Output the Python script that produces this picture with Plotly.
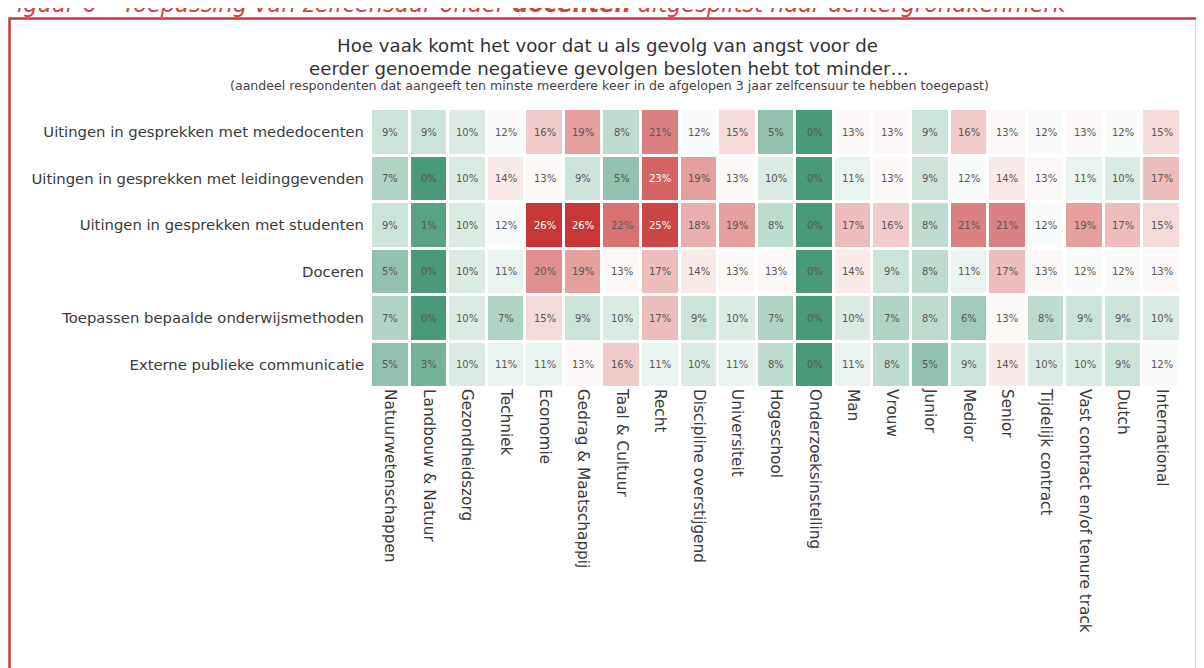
import plotly.graph_objects as go

# ---------------- data ----------------
categories = [
    "Natuurwetenschappen", "Landbouw & Natuur", "Gezondheidszorg", "Techniek",
    "Economie", "Gedrag & Maatschappij", "Taal & Cultuur", "Recht",
    "Discipline overstijgend", "Universiteit", "Hogeschool", "Onderzoeksinstelling",
    "Man", "Vrouw", "Junior", "Medior", "Senior", "Tijdelijk contract",
    "Vast contract en/of tenure track", "Dutch", "International",
]

row_labels = [
    "Uitingen in gesprekken met mededocenten",
    "Uitingen in gesprekken met leidinggevenden",
    "Uitingen in gesprekken met studenten",
    "Doceren",
    "Toepassen bepaalde onderwijsmethoden",
    "Externe publieke communicatie",
]

mededocenten    = [9, 9, 10, 12, 16, 19, 8, 21, 12, 15, 5, 0, 13, 13, 9, 16, 13, 12, 13, 12, 15]
leidinggevenden = [7, 0, 10, 14, 13, 9, 5, 23, 19, 13, 10, 0, 11, 13, 9, 12, 14, 13, 11, 10, 17]
studenten       = [9, 1, 10, 12, 26, 26, 22, 25, 18, 19, 8, 0, 17, 16, 8, 21, 21, 12, 19, 17, 15]
doceren         = [5, 0, 10, 11, 20, 19, 13, 17, 14, 13, 13, 0, 14, 9, 8, 11, 17, 13, 12, 12, 13]
toepassen       = [7, 0, 10, 7, 15, 9, 10, 17, 9, 10, 7, 0, 10, 7, 8, 6, 13, 8, 9, 9, 10]
extern          = [5, 3, 10, 11, 11, 13, 16, 11, 10, 11, 8, 0, 11, 8, 5, 9, 14, 10, 10, 9, 12]

title_line1 = "Hoe vaak komt het voor dat u als gevolg van angst voor de"
title_line2 = "eerder genoemde negatieve gevolgen besloten hebt tot minder…"
subtitle = "(aandeel respondenten dat aangeeft ten minste meerdere keer in de afgelopen 3 jaar zelfcensuur te hebben toegepast)"
header = "Figuur 6 – Toepassing van zelfcensuur onder <b>docenten</b> uitgesplitst naar achtergrondkenmerk"

# ---------------- figure ----------------
z = [mededocenten, leidinggevenden, studenten, doceren, toepassen, extern]

FONT = "DejaVu Sans"
OFF = 8  # page body margin
W, H = 1196, 660
L, R, T, B = 363, 23, 101, 280
plot_w = W - L - R
plot_h = H - T - B

def px_x(p):  # page pixel -> paper
    return (p - OFF - L) / plot_w

def px_y(p):
    return (H - B - (p - OFF)) / plot_h

fig = go.Figure(
    go.Heatmap(
        z=z, x=categories, y=row_labels,
        colorscale=[[0.0, "#4a9a7a"], [12.5 / 26, "#ffffff"], [1.0, "#c83737"]],
        zmin=0, zmax=26,
        xgap=3, ygap=3,
        showscale=False,
        hoverinfo="skip",
    )
)

annotations = []
for i, rl in enumerate(row_labels):
    for j, c in enumerate(categories):
        v = z[i][j]
        annotations.append(dict(
            x=c, y=rl, xref="x", yref="y", text=f"{v}%", showarrow=False,
            font=dict(family=FONT, size=10, color="#ffffff" if v >= 23 else "#585858"),
        ))

annotations += [
    dict(x=px_x(607), y=px_y(45), xref="paper", yref="paper", text=title_line1,
         showarrow=False, font=dict(family=FONT, size=18.2, color="#333333"), xanchor="center", yanchor="middle"),
    dict(x=px_x(609), y=px_y(68), xref="paper", yref="paper", text=title_line2,
         showarrow=False, font=dict(family=FONT, size=18.2, color="#333333"), xanchor="center", yanchor="middle"),
    dict(x=px_x(609), y=px_y(85), xref="paper", yref="paper", text=subtitle,
         showarrow=False, font=dict(family=FONT, size=12.6, color="#444444"), xanchor="center", yanchor="middle"),
    dict(x=px_x(2), y=px_y(3.5), xref="paper", yref="paper", text="<i>" + header + "</i>",
         showarrow=False, font=dict(family=FONT, size=22.5, color="#d04343"), xanchor="left", yanchor="middle"),
]

fig.update_layout(
    width=W, height=H,
    margin=dict(l=L, r=R, t=T, b=B, pad=0),
    paper_bgcolor="white", plot_bgcolor="white",
    font=dict(family=FONT, color="#333333"),
    annotations=annotations,
    shapes=[dict(type="rect", xref="paper", yref="paper",
                 x0=px_x(9.5), x1=px_x(1197), y0=px_y(720), y1=px_y(18.5),
                 line=dict(color="#c9393b", width=2.5), fillcolor="rgba(0,0,0,0)", layer="below")],
    xaxis=dict(tickangle=90, tickfont=dict(family=FONT, size=15.3, color="#3a3a3a"),
               showgrid=False, zeroline=False, ticks="", showline=False, automargin=False),
    yaxis=dict(autorange="reversed", tickfont=dict(family=FONT, size=14.8, color="#3a3a3a"),
               showgrid=False, zeroline=False, ticks="", showline=False, automargin=False,
               ticklabelstandoff=6),
)

fig.write_html("out.html")
